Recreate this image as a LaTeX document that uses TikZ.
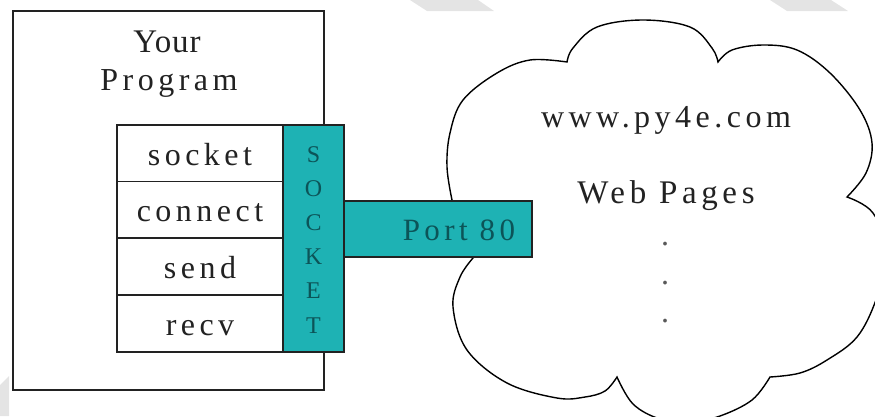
\documentclass[tikz,border=0pt]{standalone}
\usepackage{fontspec}
\setmainfont{Liberation Serif}
\newfontfamily\spaced[LetterSpace=14]{Liberation Serif}
\newfontfamily\lightspaced[LetterSpace=3]{Liberation Serif}
\definecolor{sockfill}{RGB}{30,178,180}
\definecolor{socktext}{RGB}{12,84,88}
\definecolor{wmark}{RGB}{228,228,228}
\definecolor{ink}{RGB}{34,34,34}
\begin{document}
\begin{tikzpicture}[x=1pt,y=-1pt,
  boxline/.style={draw=ink, line width=1.4pt},
  whitebox/.style={boxline, fill=white, inner sep=0pt, outer sep=0pt},
  tealbox/.style={boxline, fill=sockfill, inner sep=0pt, outer sep=0pt},
  rowbox/.style={whitebox, minimum width=166pt, minimum height=57pt,
     text height=23pt, text depth=0pt, text=ink, font=\spaced\fontsize{32}{38}\selectfont},
  bigtext/.style={anchor=base, inner sep=0pt, text=ink, font=\spaced\fontsize{32}{38}\selectfont},
  socktxt/.style={anchor=base, inner sep=0pt, text=socktext, font=\fontsize{24}{28}\selectfont},
  porttxt/.style={anchor=base, inner sep=0pt, text=socktext, font=\spaced\fontsize{31}{36}\selectfont},
  cloudline/.style={draw=black, line width=1.4pt, fill=white}
]
\useasboundingbox (0,0) rectangle (875,416);
% faint watermark stripes
\fill[wmark] (410,0) -- (478,0) -- (494,11) -- (427,11) -- cycle;
\fill[wmark] (770,0) -- (831,0) -- (848,11) -- (787,11) -- cycle;
\fill[wmark] (0,385) -- (9,376) -- (9,416) -- (0,416) -- cycle;

% program box
\node[whitebox, minimum width=311pt, minimum height=379pt] (prog) at (168.5,200.5) {};
\node[bigtext, font=\lightspaced\fontsize{33}{38}\selectfont] (your) at (167,52) {Your};
\node[bigtext] (program) at (169,90) {Program};

% cloud
\path[cloudline] (452,200)
  -- plot[smooth, tension=0.6] coordinates {(452,200) (447,167) (450,133) (463,100) (497,73) (530,60) (567,62)}
  -- plot[smooth, tension=0.6] coordinates {(567,62) (573,48) (597,27) (643,20) (690,27) (712,48) (718,62)}
  -- plot[smooth, tension=0.6] coordinates {(718,62) (732,50) (763,45) (797,50) (830,73) (860,110) (872,143) (866,173) (847,197)}
  -- plot[smooth, tension=0.6] coordinates {(847,197) (873,213) (888,255) (876,300) (857,337) (827,360) (800,373) (770,377)}
  -- plot[smooth, tension=0.6] coordinates {(770,377) (752,400) (720,416) (690,422) (660,419) (633,404) (617,377)}
  -- plot[smooth, tension=0.6] coordinates {(617,377) (605,391) (585,397) (557,398) (507,383) (467,350) (453,307) (460,277) (473,258)}
  -- (470,230) -- cycle;
\node[bigtext] (url) at (666,127) {www.py4e.com};
\node[bigtext, font=\spaced\fontsize{33}{38}\selectfont] (pages) at (666,203) {Web Pages};
\node[bigtext, text=black!65] (dot1) at (665,245) {.};
\node[bigtext, text=black!65] (dot2) at (665,284) {.};
\node[bigtext, text=black!65] (dot3) at (665,322) {.};

% port
\node[tealbox, minimum width=188pt, minimum height=56pt] (port) at (438,229) {};
\node[porttxt] (portlabel) at (459,240) {Port 80};

% function rows
\node[rowbox] (rsock) at (200,153.5) {socket};
\node[rowbox] (rconn) at (200,210) {connect};
\node[rowbox] (rsend) at (200,266.5) {send};
\node[rowbox] (rrecv) at (200,323.5) {recv};

% socket bar
\node[tealbox, minimum width=61pt, minimum height=227pt] (sock) at (313.5,238.5) {};
\foreach \ch [count=\i from 0] in {S,O,C,K,E,T}
  \node[socktxt] (s\i) at (313.5,{162+34.2*\i}) {\ch};
\end{tikzpicture}
\end{document}
